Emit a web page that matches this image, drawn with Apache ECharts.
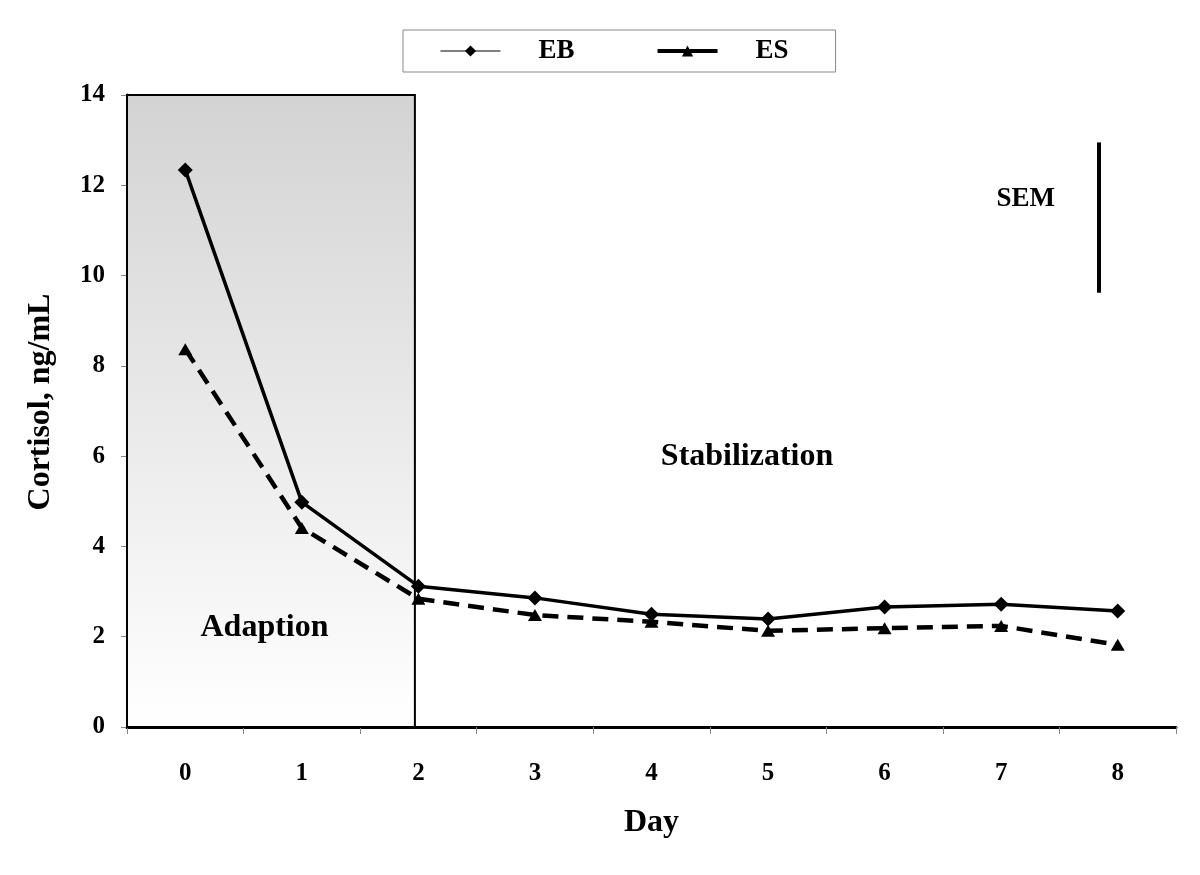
<!DOCTYPE html>
<html>
<head>
<meta charset="utf-8">
<script src="https://cdn.jsdelivr.net/npm/echarts@6/dist/echarts.min.js"></script>
<style>html,body{margin:0;padding:0;background:#fff;}#c{width:1200px;height:875px;}</style>
</head>
<body>
<div id="c"></div>
<script>
const days = ['0','1','2','3','4','5','6','7','8'];
const ebValues = [12.34, 4.98, 3.12, 2.86, 2.50, 2.39, 2.66, 2.72, 2.57];
const esValues = [8.37, 4.41, 2.84, 2.48, 2.33, 2.13, 2.19, 2.24, 1.82];
const yTicks = [0, 2, 4, 6, 8, 10, 12, 14];
const adaptionRange = [-0.5, 1.97];
const semBar = { x: 7.84, from: 9.62, to: 12.95 };
const notes = [
  { text: 'Adaption', x: 0.68, y: 2.2 },
  { text: 'Stabilization', x: 4.82, y: 5.98 },
  { text: 'SEM', x: 7.21, y: 11.7 }
];

const FONT = "'Liberation Serif','Times New Roman',serif";
const chart = echarts.init(document.getElementById('c'));
chart.setOption({
  animation: false,
  backgroundColor: '#fff',
  textStyle: { fontFamily: FONT, fontWeight: 'bold', color: '#000' },
  grid: { left: 127, right: 24, top: 95, bottom: 148 },
  legend: {
    left: 403, top: 30,
    orient: 'horizontal',
    borderColor: '#888', borderWidth: 1,
    padding: [6, 47, 6, 37],
    itemWidth: 60, itemHeight: 14, itemGap: 81,
    textStyle: { fontFamily: FONT, fontWeight: 'bold', fontSize: 27, color: '#000', padding: [0, 0, 0, 33], lineHeight: 30 },
    data: [
      { name: 'EB', lineStyle: { width: 1, type: 'solid' } },
      { name: 'ES', lineStyle: { width: 4, type: 'solid' } }
    ]
  },
  xAxis: [
    {
      type: 'category', data: days, boundaryGap: true, position: 'bottom',
      name: 'Day', nameLocation: 'middle', nameGap: 80,
      nameTextStyle: { fontFamily: FONT, fontWeight: 'bold', fontSize: 32, color: '#000' },
      axisLine: { lineStyle: { color: '#000', width: 3 } },
      axisTick: { show: true, length: 7, lineStyle: { color: '#888', width: 1 } },
      axisLabel: { margin: 34, fontFamily: FONT, fontWeight: 'bold', fontSize: 25, color: '#000' },
      splitLine: { show: false }
    },
    { type: 'value', min: -0.5, max: 8.5, show: false, position: 'bottom',
      axisLine: { show: false }, axisTick: { show: false }, axisLabel: { show: false }, splitLine: { show: false } }
  ],
  yAxis: {
    type: 'value', min: 0, max: 14, interval: 2,
    name: 'Cortisol, ng/mL', nameLocation: 'middle', nameGap: 70,
    nameTextStyle: { fontFamily: FONT, fontWeight: 'bold', fontSize: 32, color: '#000', padding: [0, 0, 0, 18] },
    axisLine: { show: true, onZero: false, lineStyle: { color: '#000', width: 3 } },
    axisTick: { show: true, length: 6, lineStyle: { color: '#888', width: 1 } },
    axisLabel: { margin: 22, fontFamily: FONT, fontWeight: 'bold', fontSize: 25, color: '#000',
      formatter: v => yTicks.includes(v) ? String(v) : '' },
    splitLine: { show: false }
  },
  series: [
    {
      name: 'annot', type: 'line', xAxisIndex: 1, data: [], silent: true, z: 1,
      markArea: {
        silent: true,
        label: { show: false },
        itemStyle: {
          color: new echarts.graphic.LinearGradient(0, 0, 0, 1, [
            { offset: 0, color: '#d3d3d3' }, { offset: 1, color: '#ffffff' }
          ]),
          borderColor: '#000', borderWidth: 2
        },
        data: [[{ xAxis: adaptionRange[0], yAxis: 0 }, { xAxis: adaptionRange[1], yAxis: 14 }]]
      },
      markLine: {
        silent: true, symbol: ['none', 'none'], label: { show: false },
        lineStyle: { color: '#000', width: 4, type: 'solid' },
        data: [[{ coord: [semBar.x, semBar.from] }, { coord: [semBar.x, semBar.to] }]]
      },
      markPoint: {
        silent: true, symbol: 'circle', symbolSize: 1,
        itemStyle: { color: 'rgba(0,0,0,0)' },
        label: { show: true, position: 'inside', fontFamily: FONT, fontWeight: 'bold', color: '#000', formatter: p => p.name },
        data: notes.map(n => ({ name: n.text, coord: [n.x, n.y],
          label: { fontSize: n.text === 'SEM' ? 27 : 32 } }))
      }
    },
    {
      name: 'EB', type: 'line', data: ebValues, z: 5,
      symbol: 'diamond', symbolSize: [15, 15],
      lineStyle: { color: '#000', width: 3.5 },
      itemStyle: { color: '#000' }
    },
    {
      name: 'ES', type: 'line', data: esValues, z: 4,
      symbol: 'triangle', symbolSize: [14, 12],
      lineStyle: { color: '#000', width: 4.5, type: [16, 9] },
      itemStyle: { color: '#000' }
    }
  ]
});
</script>
</body>
</html>
